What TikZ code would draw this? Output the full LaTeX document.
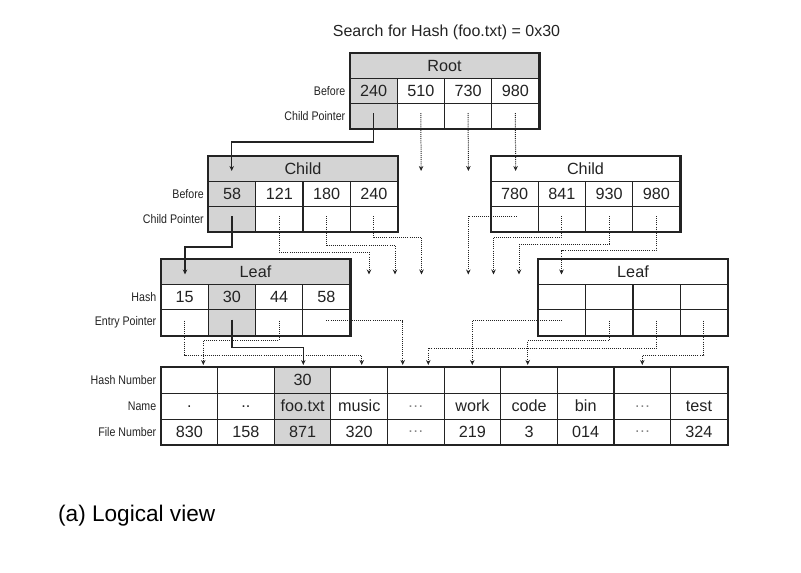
\documentclass[tikz,border=0pt]{standalone}
\usepackage{fontspec}
\setmainfont{Liberation Sans}
\newfontfamily\narrowf[FakeStretch=0.85]{Liberation Sans}
\usetikzlibrary{arrows.meta,calc}
\definecolor{shade}{RGB}{212,212,212}
\definecolor{ink}{RGB}{35,35,35}
\newcommand\mkblock[5]{%
 \begin{scope}[shift={#2}]
  \ifnum#4=0 \def\hf{white}\else\def\hf{shade}\fi
  \node[cell,fill=\hf,minimum width=189pt] (#1h) at (94.5,12.6) {#3};
  \foreach \v [count=\i] in {#5} {
    \pgfmathsetmacro\cx{(\i-0.5)*47.25}
    \ifnum\i=#4 \def\fc{shade}\else\def\fc{white}\fi
    \node[cell,fill=\fc] (#1v\i) at (\cx,37.8) {\v};
    \node[cell,fill=\fc] (#1p\i) at (\cx,63) {};
  }
  \draw[outer] (#1h.north west) rectangle (#1p4.south east);
 \end{scope}}
\newcommand\tcol[5]{%
 \node[tcell,fill=#5] (th#1) at ({161+(#1-0.5)*56.63},380.4) {#2};
 \node[tcell,fill=#5] (tn#1) at ({161+(#1-0.5)*56.63},406.2) {#3};
 \node[tcell,fill=#5] (tf#1) at ({161+(#1-0.5)*56.63},432) {#4};}
\newcommand\elp{\textcolor{ink!55}{…}}
\begin{document}
\begin{tikzpicture}[x=1pt,y=-1pt,
  cell/.style={draw=ink,line width=1.1pt,inner sep=0pt,minimum width=47.25pt,
     minimum height=25.2pt,text=ink,font=\fontsize{16.2}{18}\selectfont},
  tcell/.style={draw=ink,line width=1.1pt,inner sep=0pt,minimum width=56.63pt,
     minimum height=25.8pt,text=ink,font=\fontsize{16.2}{18}\selectfont},
  outer/.style={draw=ink,line width=1.9pt},
  lbl/.style={anchor=east,inner sep=0pt,text=ink,font=\narrowf\fontsize{12.5}{14}\selectfont},
  solidc/.style={draw=ink,line width=1.3pt,-{Stealth[length=5pt,width=4.5pt]}},
  dotc/.style={draw=ink,line width=1pt,dash pattern=on 1pt off 1.1pt,-{Stealth[length=5pt,width=4.5pt]}}]
\useasboundingbox (0,0) rectangle (801,573);
\node[text=ink,font=\fontsize{16}{18}\selectfont] (title) at (446.5,32.5) {Search for Hash (foo.txt) = 0x30};
\node[anchor=west,inner sep=0pt,text=black,font=\fontsize{22.6}{25}\selectfont] (cap) at (58,516) {(a) Logical view};
% blocks
\mkblock{root}{(350,53)}{Root}{1}{240,510,730,980}
\mkblock{lc}{(208.5,156)}{Child}{1}{58,121,180,240}
\mkblock{rc}{(491,156)}{Child}{0}{780,841,930,980}
\mkblock{ll}{(161,259.5)}{Leaf}{2}{15,30,44,58}
\mkblock{rl}{(538.5,259.5)}{Leaf}{0}{{},{},{},{}}
% row labels
\node[lbl] (rb) at ($(rootv1.west)+(-4,0)$) {Before};
\node[lbl] (rcp) at ($(rootp1.west)+(-4,0)$) {Child Pointer};
\node[lbl] (lb) at ($(lcv1.west)+(-4,0)$) {Before};
\node[lbl] (lcp) at ($(lcp1.west)+(-4,0)$) {Child Pointer};
\node[lbl] (lh) at ($(llv1.west)+(-4,0)$) {Hash};
\node[lbl] (lep) at ($(llp1.west)+(-4,0)$) {Entry Pointer};
% table
\tcol{1}{}{.}{830}{white}
\tcol{2}{}{..}{158}{white}
\tcol{3}{30}{foo.txt}{871}{shade}
\tcol{4}{}{music}{320}{white}
\tcol{5}{}{\elp}{\elp}{white}
\tcol{6}{}{work}{219}{white}
\tcol{7}{}{code}{3}{white}
\tcol{8}{}{bin}{014}{white}
\tcol{9}{}{\elp}{\elp}{white}
\tcol{10}{}{test}{324}{white}
\draw[outer] (th1.north west) rectangle (tf10.south east);
\node[lbl] (thn) at ($(th1.west)+(-4,0)$) {Hash Number};
\node[lbl] (tnm) at ($(tn1.west)+(-4,0)$) {Name};
\node[lbl] (tfn) at ($(tf1.west)+(-4,0)$) {File Number};
% arrow end points
\coordinate (e1) at (231.7,171);
\coordinate (e2) at (185,274.5);
\coordinate (e3) at (303.3,365);
\foreach \n/\x/\y in {d1/421.1/171, d2/468.4/171, d3/515.6/171,
   d4/369/274.5, d5/395/274.5, d6/421.5/274.5, d7/468.3/274.5, d8/493.5/274.5,
   d9/519/274.5, d10/561.5/274.5,
   d11/361.7/365, d12/203.3/365, d13/402.7/365, d14/472.3/365, d15/527.7/365,
   d16/428.3/365, d17/642.3/365}
  \coordinate (\n) at (\x,\y);
% solid connectors
\draw[solidc] ($(rootp1.center)+(0,-3)$) -- ++(0,29) -| (e1);
\draw[solidc] ($(lcp1.center)+(0,-3)$) -- ++(0,31) -| (e2);
\draw[solidc] ($(llp2.center)+(0,-3)$) -- ++(0,28) -| (e3);
% dotted connectors
\draw[dotc] ($(rootp2.center)+(0,-3)$) -- (d1);
\draw[dotc] ($(rootp3.center)+(0,-3)$) -- (d2);
\draw[dotc] ($(rootp4.center)+(0,-3)$) -- (d3);
\draw[dotc] ($(lcp2.center)+(0,-3)$) -- ++(0,36) -| (d4);
\draw[dotc] ($(lcp3.center)+(0,-3)$) -- ++(0,29.5) -| (d5);
\draw[dotc] ($(lcp4.center)+(0,-3)$) -- ++(0,21) -| (d6);
\draw[dotc] ($(rcp1.center)+(2,-3)$) -| (d7);
\draw[dotc] ($(rcp2.center)+(0,-3)$) -- ++(0,21) -| (d8);
\draw[dotc] ($(rcp3.center)+(0,-3)$) -- ++(0,28) -| (d9);
\draw[dotc] ($(rcp4.center)+(0,-3)$) -- ++(0,34) -| (d10);
\draw[dotc] ($(llp1.center)+(0,-2)$) -- ++(0,34.5) -| (d11);
\draw[dotc] ($(llp3.center)+(0,-2)$) -- ++(0,20.2) -| (d12);
\draw[dotc] ($(llp4.center)+(0,-2)$) -| (d13);
\draw[dotc] ($(rlp1.center)+(0,-2)$) -| (d14);
\draw[dotc] ($(rlp2.center)+(0,-2)$) -- ++(0,20.2) -| (d15);
\draw[dotc] ($(rlp3.center)+(0,-2)$) -- ++(0,27.8) -| (d16);
\draw[dotc] ($(rlp4.center)+(0,-2)$) -- ++(0,34.5) -| (d17);
\end{tikzpicture}
\end{document}
